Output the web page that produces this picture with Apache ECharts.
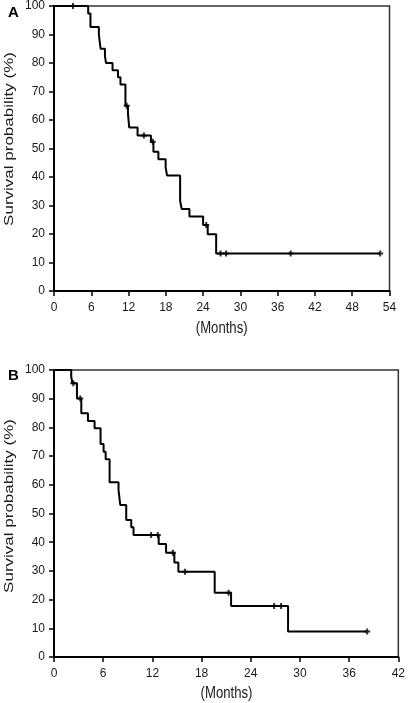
<!DOCTYPE html>
<html><head><meta charset="utf-8">
<script src="https://cdn.jsdelivr.net/npm/echarts@6/dist/echarts.min.js"></script>
<style>html,body{margin:0;padding:0;background:#fff}#c{width:408px;height:703px}</style>
</head><body><div id="c"></div>
<script>
// Panel A: Kaplan-Meier steps (months, survival %)
var timesA = [0, 5.5, 5.87, 7.22, 7.5, 8.2, 8.37, 9.42, 10.3, 10.7, 11.5, 11.9, 12.1, 13.45, 15.6, 16.0, 16.8, 17.97, 18.2, 20.3, 20.55, 21.8, 24.0, 24.74, 26.1, 52.5];
var survA = [100, 97.4, 92.6, 90, 85, 82.5, 80, 77.5, 75, 72.5, 65, 62.4, 57.4, 54.6, 52.4, 48.9, 46.2, 43.3, 40.5, 31.6, 28.8, 26.1, 23.2, 19.9, 13.2, 13.2];
var censorTimesA = [3.06, 11.7, 14.47, 15.9, 24.5, 26.8, 27.7, 38.1, 52.5];
var censorSurvA = [100, 65, 54.6, 52.4, 23.2, 13.2, 13.2, 13.2, 13.2];
// Panel B
var timesB = [0, 2.1, 2.25, 2.8, 3.33, 4.14, 4.95, 5.68, 6.05, 6.3, 6.78, 7.87, 8.08, 8.81, 9.42, 9.7, 12.77, 13.67, 14.68, 15.17, 19.6, 21.6, 28.55, 38.2];
var survB = [100, 97.7, 95.4, 90.1, 84.9, 82.2, 79.7, 74.2, 71.5, 68.9, 60.9, 58.2, 53, 47.7, 45.2, 42.5, 39.4, 36.3, 32.9, 29.7, 22.4, 17.8, 8.9, 8.9];
var censorTimesB = [2.35, 3.2, 11.85, 12.66, 14.5, 15.98, 21.3, 26.85, 27.7, 38.2];
var censorSurvB = [95.4, 90.1, 42.5, 42.5, 36.3, 29.7, 22.4, 17.8, 17.8, 8.9];
var xTicksA = {min: 0, max: 54, interval: 6};
var xTicksB = {min: 0, max: 42, interval: 6};
var yTicks = {min: 0, max: 100, interval: 10};
var panelLabels = ['A', 'B'];
var xName = '(Months)';
var yName = 'Survival probability (%)';

function pairs(xs, ys){ return xs.map(function(x,i){ return [x, ys[i]]; }); }
var FONT = '"Liberation Sans", Arial, sans-serif';
var NARROW = '"Liberation Sans Narrow", "Liberation Sans", Arial, sans-serif';
var TXT = '#1a1a1a';
var plus = 'path://M2,0H4V2H6V4H4V6H2V4H0V2H2Z';

function xAxis(idx, t){
  return {type:'value', gridIndex: idx, min:t.min, max:t.max, interval:t.interval,
    axisLine:{show:true, onZero:false, lineStyle:{color:'#000', width:2}},
    axisTick:{show:true, inside:false, length:5, lineStyle:{color:'#000', width:1.5}},
    axisLabel:{fontFamily:NARROW, fontSize:12, color:TXT, margin:11},
    splitLine:{show:false}};
}
function yAxis(idx){
  return {type:'value', gridIndex: idx, min:yTicks.min, max:yTicks.max, interval:yTicks.interval,
    axisLine:{show:true, onZero:false, lineStyle:{color:'#000', width:2}},
    axisTick:{show:true, inside:false, length:5, lineStyle:{color:'#000', width:1.5}},
    axisLabel:{fontFamily:NARROW, fontSize:12, color:TXT, margin:9},
    splitLine:{show:false}};
}
function yNameText(cy){
  return {type:'text', x:9, y:cy, rotation:Math.PI/2, scaleX:1, scaleY:0.75,
    style:{text:yName, fontFamily:FONT, fontSize:17, fill:TXT, align:'center', verticalAlign:'middle'}};
}
function xNameText(cx, cy){
  return {type:'text', x:cx, y:cy, scaleX:0.82, scaleY:1,
    style:{text:xName, fontFamily:FONT, fontSize:16, fill:TXT, align:'center', verticalAlign:'middle'}};
}

var chart = echarts.init(document.getElementById('c'), null, {renderer:'canvas'});
chart.setOption({
  animation:false,
  backgroundColor:'#fff',
  title:[
    {text:panelLabels[0], left:3, top:0, textStyle:{fontFamily:FONT, fontSize:15, fontWeight:'bold', color:'#000'}},
    {text:panelLabels[1], left:3, top:363, textStyle:{fontFamily:FONT, fontSize:15, fontWeight:'bold', color:'#000'}}
  ],
  graphic:[yNameText(139), yNameText(506), xNameText(221.7, 329), xNameText(226.5, 694)],
  grid:[
    {left:54, top:6, width:335.5, height:285, show:true, borderColor:'#333', borderWidth:1.5, backgroundColor:'transparent'},
    {left:54, top:370, width:345.5, height:287, show:true, borderColor:'#333', borderWidth:1.5, backgroundColor:'transparent'}
  ],
  xAxis:[xAxis(0, xTicksA), xAxis(1, xTicksB)],
  yAxis:[yAxis(0), yAxis(1)],
  series:[
    {type:'line', xAxisIndex:0, yAxisIndex:0, step:'end', data:pairs(timesA, survA), showSymbol:false,
     lineStyle:{color:'#000', width:2}},
    {type:'scatter', xAxisIndex:0, yAxisIndex:0, data:pairs(censorTimesA, censorSurvA), symbol:plus, symbolSize:6,
     itemStyle:{color:'#000'}},
    {type:'line', xAxisIndex:1, yAxisIndex:1, step:'end', data:pairs(timesB, survB), showSymbol:false,
     lineStyle:{color:'#000', width:2}},
    {type:'scatter', xAxisIndex:1, yAxisIndex:1, data:pairs(censorTimesB, censorSurvB), symbol:plus, symbolSize:6,
     itemStyle:{color:'#000'}}
  ]
});
</script></body></html>
